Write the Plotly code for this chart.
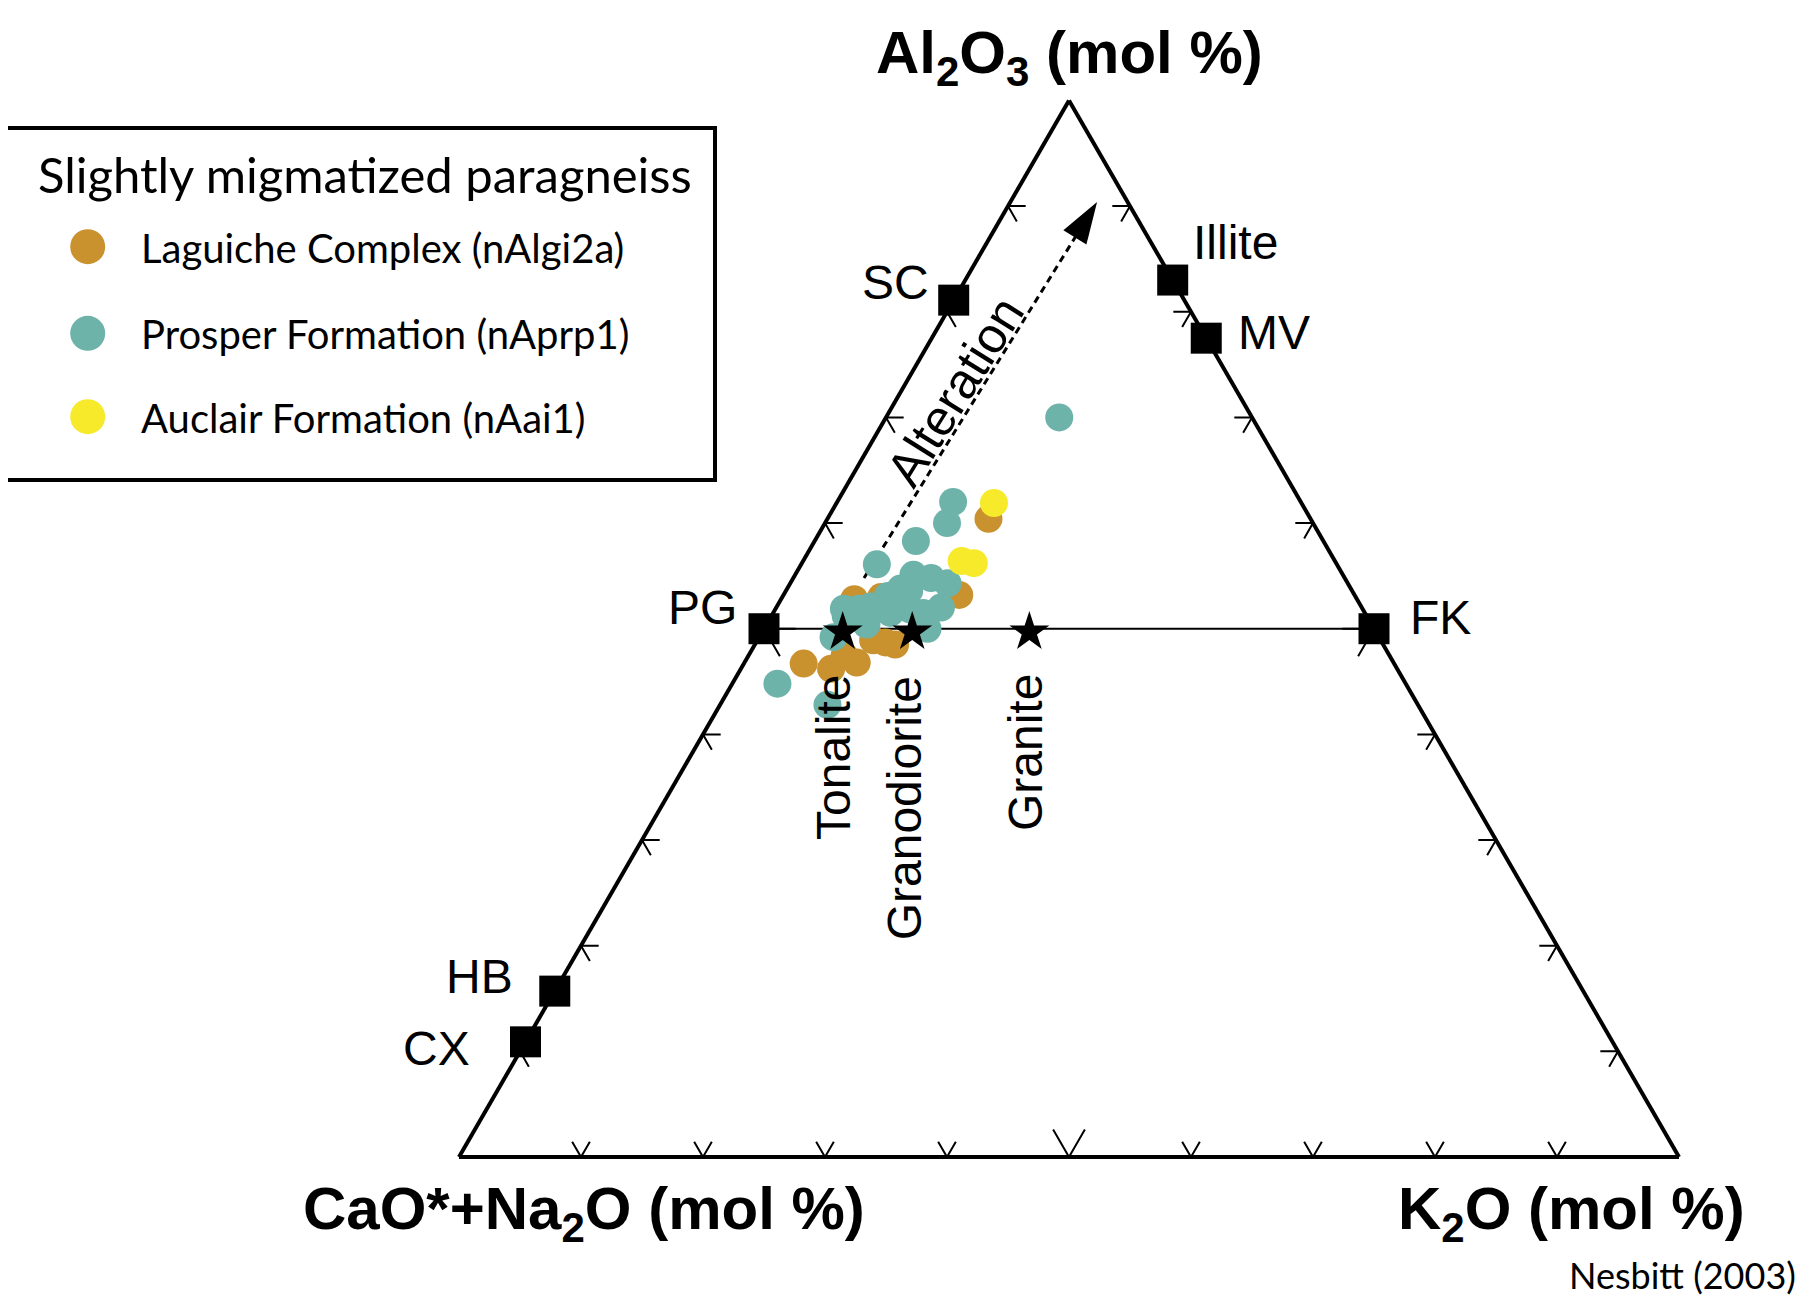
import plotly.graph_objects as go

# page is 1810 x 1307 with an 8 px body margin
PAGE_W, PAGE_H, OFF = 1810, 1307, 8
W, H = PAGE_W - 2 * OFF, PAGE_H - 2 * OFF

# ---------------- data (mol %): A = Al2O3, B = CaO*+Na2O, C = K2O ----------------
series_names = ["Laguiche Complex (nAlgi2a)", "Prosper Formation (nAprp1)", "Auclair Formation (nAai1)"]
series_colors = ["#C9922F", "#6DB3A9", "#F6EA2B"]

lag_A = [60.4, 53.2, 52.8, 53.0, 46.7, 46.2, 46.8, 48.9, 48.7, 48.5, 47.4]
lag_B = [26.4, 32.4, 41.2, 38.9, 48.4, 46.4, 44.0, 41.6, 40.7, 40.0, 44.7]
lag_C = [13.2, 14.4, 6.0, 8.1, 4.9, 7.4, 9.2, 9.5, 10.6, 11.5, 7.9]

pro_A = [70.0, 62.0, 60.0, 58.3, 56.1, 55.1, 54.8, 54.3, 53.8, 53.1, 52.0, 50.0,
         52.1, 51.9, 51.2, 49.2, 44.8, 42.8, 53.6, 51.8, 51.5, 50.4, 51.5, 51.9]
pro_B = [15.8, 28.5, 30.0, 33.4, 37.7, 35.2, 33.9, 32.8, 36.9, 38.3, 34.5, 36.6,
         40.2, 41.3, 42.7, 44.7, 51.5, 48.4, 36.3, 37.1, 38.9, 41.4, 36.2, 42.5]
pro_C = [14.2, 9.5, 10.0, 8.3, 6.2, 9.7, 11.3, 12.9, 9.3, 8.6, 13.5, 13.4,
         7.7, 6.8, 6.1, 6.1, 3.7, 8.8, 10.1, 11.1, 9.6, 8.2, 12.3, 5.6]

auc_A = [61.9, 56.4, 56.2]
auc_B = [25.2, 30.6, 29.7]
auc_C = [12.9, 13.0, 14.1]

mineral_names = ["SC", "Illite", "MV", "PG", "FK", "HB", "CX"]
mineral_A = [81.1, 83.0, 77.5, 50.0, 50.0, 15.7, 10.9]
mineral_B = [18.9, 0.0, 0.0, 50.0, 0.0, 84.3, 89.1]
mineral_C = [0.0, 17.0, 22.5, 0.0, 50.0, 0.0, 0.0]

rock_names = ["Tonalite", "Granodiorite", "Granite"]
rock_A = [49.7, 49.7, 49.7]
rock_B = [43.7, 38.0, 28.4]
rock_C = [6.6, 12.3, 21.9]

tie_A = [50.0, 50.0]
tie_B = [50.0, 0.0]
tie_C = [0.0, 50.0]

alter_A = [54.8, 87.6]
alter_B = [39.4, 5.4]
alter_C = [5.8, 7.0]
alter_tip = (90.4, 2.5, 7.1)

tick_values = [10, 20, 30, 40, 50, 60, 70, 80, 90]
# ------------------------------------------------------------------------------------


def px(x, y):
    """page pixel -> paper fraction"""
    return (x - OFF) / W, 1 - (y - OFF) / H


# triangle box in page pixels
tri_left, tri_right, tri_bottom = 459.0, 1679.0, 1157.0
tri_h = (tri_right - tri_left) * 3 ** 0.5 / 2
x0p, y0p = px(tri_left, tri_bottom)
x1p, y1p = px(tri_right, tri_bottom - tri_h)
dom_x = [x0p, x1p]
dom_y = [y0p, y1p]

fig = go.Figure()

# chevron tick marks along the three edges
ta, tb, tc = [], [], []
for t in tick_values:
    d = 2.6 if t == 50 else 1.45
    # bottom edge (a = 0): V opening upward
    ta += [d, 0, d, None]
    tb += [100 - t - d, 100 - t, 100 - t, None]
    tc += [t, t, t - d, None]
    # left edge (c = 0)
    ta += [t, t, t - d, None]
    tb += [100 - t - d, 100 - t, 100 - t, None]
    tc += [d, 0, d, None]
    # right edge (b = 0)
    ta += [t, t, t - d, None]
    tb += [d, 0, d, None]
    tc += [100 - t - d, 100 - t, 100 - t, None]
fig.add_trace(go.Scatterternary(a=ta, b=tb, c=tc, mode="lines",
                                line=dict(color="black", width=2),
                                cliponaxis=False, hoverinfo="skip", showlegend=False))

# PG - FK tie line
fig.add_trace(go.Scatterternary(a=tie_A, b=tie_B, c=tie_C, mode="lines",
                                line=dict(color="black", width=2),
                                cliponaxis=False, hoverinfo="skip", showlegend=False))

# alteration arrow
fig.add_trace(go.Scatterternary(a=alter_A, b=alter_B, c=alter_C, mode="lines",
                                line=dict(color="black", width=3, dash="7px,5px"),
                                cliponaxis=False, hoverinfo="skip", showlegend=False))
fig.add_trace(go.Scatterternary(a=[alter_tip[0]], b=[alter_tip[1]], c=[alter_tip[2]],
                                mode="markers",
                                marker=dict(symbol="arrow", size=44, angle=32, color="black",
                                            line=dict(width=0)),
                                cliponaxis=False, hoverinfo="skip", showlegend=False))

# samples
for name, col, A, B, C in [
    (series_names[0], series_colors[0], lag_A, lag_B, lag_C),
    (series_names[1], series_colors[1], pro_A, pro_B, pro_C),
    (series_names[2], series_colors[2], auc_A, auc_B, auc_C),
]:
    fig.add_trace(go.Scatterternary(a=A, b=B, c=C, mode="markers", name=name,
                                    marker=dict(size=28, color=col, line=dict(width=0)),
                                    cliponaxis=False, showlegend=False))

# reference minerals
fig.add_trace(go.Scatterternary(a=mineral_A, b=mineral_B, c=mineral_C, mode="markers",
                                hovertext=mineral_names, hoverinfo="text",
                                marker=dict(symbol="square", size=31, color="black",
                                            line=dict(width=0)),
                                cliponaxis=False, showlegend=False))
# rocks
fig.add_trace(go.Scatterternary(a=rock_A, b=rock_B, c=rock_C, mode="markers",
                                hovertext=rock_names, hoverinfo="text",
                                marker=dict(symbol="star", size=30, color="black",
                                            line=dict(width=0)),
                                cliponaxis=False, showlegend=False))

axis_style = dict(showline=True, linecolor="black", linewidth=4, showgrid=False,
                  showticklabels=False, ticks="", title=dict(text=""))

LBL = "Liberation Sans, Arial, sans-serif"
MYR = "Lato, Open Sans, sans-serif"

annotations = []
# mineral labels
label_pos = {"SC": (895.7, 283), "Illite": (1235, 242), "MV": (1274, 332),
             "PG": (702, 608), "FK": (1440.6, 617.5), "HB": (480, 976), "CX": (436, 1048)}
for n in mineral_names:
    x, y = px(*label_pos[n])
    annotations.append(dict(x=x, y=y, xref="paper", yref="paper", text=n, showarrow=False,
                            xanchor="center", yanchor="middle",
                            font=dict(family=LBL, size=48, color="black")))
rock_pos = {"Tonalite": (833.5, 757.5), "Granodiorite": (904, 808.3), "Granite": (1025.7, 752.3)}
for n in rock_names:
    x, y = px(*rock_pos[n])
    annotations.append(dict(x=x, y=y, xref="paper", yref="paper", text=n, showarrow=False,
                            textangle=-90, xanchor="center", yanchor="middle",
                            font=dict(family=LBL, size=48, color="black")))
x, y = px(955, 392)
annotations.append(dict(x=x, y=y, xref="paper", yref="paper", text="Alteration",
                        showarrow=False, textangle=-58, xanchor="center", yanchor="middle",
                        font=dict(family=LBL, size=50, color="black")))

# vertex titles
for txt, (xx, yy) in [("Al<sub>2</sub>O<sub>3</sub> (mol %)", (1069, 57)),
                      ("CaO*+Na<sub>2</sub>O (mol %)", (584, 1213)),
                      ("K<sub>2</sub>O (mol %)", (1571, 1213))]:
    x, y = px(xx, yy)
    annotations.append(dict(x=x, y=y, xref="paper", yref="paper", text=txt, showarrow=False,
                            xanchor="center", yanchor="middle",
                            font=dict(family=LBL, size=60, color="black", weight="bold")))

x, y = px(1798, 1275)
annotations.append(dict(x=x, y=y, xref="paper", yref="paper", text="Nesbitt (2003)",
                        showarrow=False, xanchor="right", yanchor="middle",
                        font=dict(family=MYR, size=36, color="black")))

# legend (drawn)
shapes = []
bx0, by0 = px(4, 128)
bx1, by1 = px(715, 480)
shapes.append(dict(type="rect", xref="paper", yref="paper", x0=bx0, y0=by1, x1=bx1, y1=by0,
                   line=dict(color="black", width=4), fillcolor="white", layer="below"))
x, y = px(36, 174)
annotations.append(dict(x=x, y=y, xref="paper", yref="paper",
                        text="Slightly migmatized paragneiss", showarrow=False,
                        xanchor="left", yanchor="middle",
                        font=dict(family=MYR, size=49, color="black")))
legend_y = [246.7, 333.3, 416.7]
for name, col, ly in zip(series_names, series_colors, legend_y):
    cx, cy = px(87.7, ly)
    shapes.append(dict(type="circle", xref="paper", yref="paper", xsizemode="pixel",
                       ysizemode="pixel", xanchor=cx, yanchor=cy, x0=-17.5, x1=17.5,
                       y0=-17.5, y1=17.5, fillcolor=col, line=dict(width=0)))
    tx, ty = px(138.5, ly + 1)
    annotations.append(dict(x=tx, y=ty, xref="paper", yref="paper", text=name,
                            showarrow=False, xanchor="left", yanchor="middle",
                            font=dict(family=MYR, size=40, color="black")))

fig.update_layout(
    width=W, height=H, margin=dict(l=0, r=0, t=0, b=0),
    paper_bgcolor="white", plot_bgcolor="white", showlegend=False,
    ternary=dict(sum=100, domain=dict(x=dom_x, y=dom_y), bgcolor="rgba(0,0,0,0)",
                 aaxis=axis_style, baxis=axis_style, caxis=axis_style),
    annotations=annotations, shapes=shapes,
)

fig.write_html("out.html")
